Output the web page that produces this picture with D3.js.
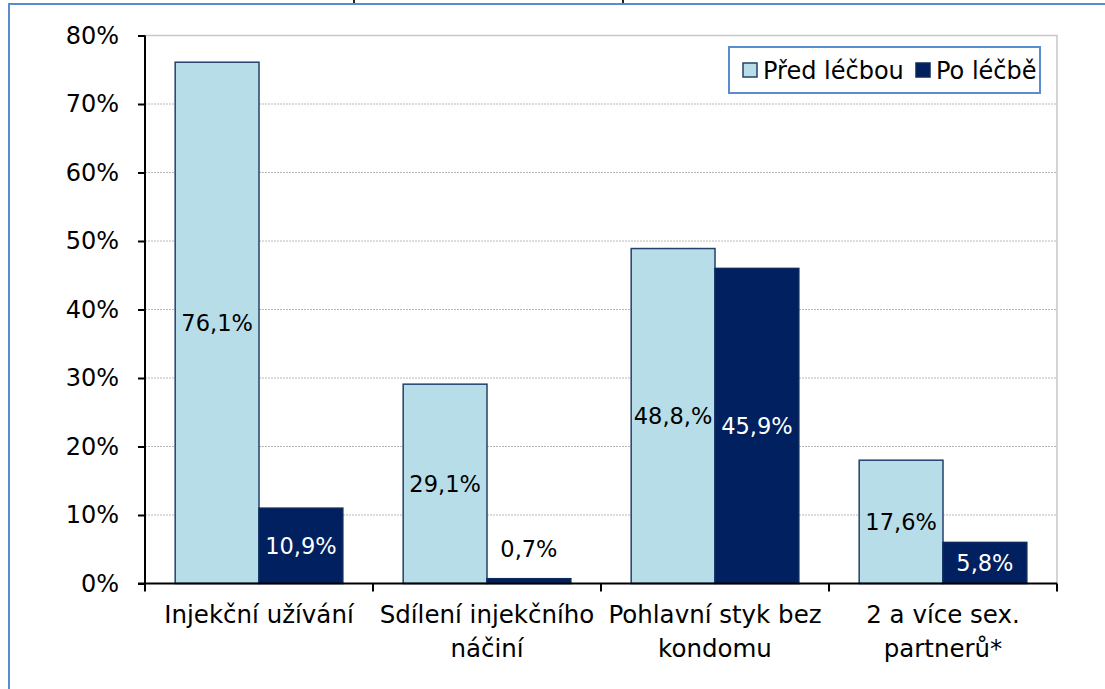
<!DOCTYPE html>
<html>
<head>
<meta charset="utf-8">
<script src="https://cdn.jsdelivr.net/npm/d3@7"></script>
<style>
  body { margin: 0; background: #fff; }
  svg { display: block; font-family: "DejaVu Sans", Verdana, sans-serif; }
</style>
</head>
<body>
<svg id="chart"></svg>
<script>
const categories = [
  ["Injekční užívání"],
  ["Sdílení injekčního", "náčiní"],
  ["Pohlavní styk bez", "kondomu"],
  ["2 a více sex.", "partnerů*"]
];
const series = ["Před léčbou", "Po léčbě"];
const beforeValues = [76.1, 29.1, 48.9, 18];
const afterValues = [11, 0.7, 46, 6];
const beforeLabels = ["76,1%", "29,1%", "48,8,%", "17,6%"];
const afterLabels = ["10,9%", "0,7%", "45,9%", "5,8%"];
const yTicks = [0, 10, 20, 30, 40, 50, 60, 70, 80];

const width = 1105;
const height = 689;
const margin = { top: 35.5, right: 48, bottom: 105.5, left: 145 };

const fills = ["#b7dde8", "#002060"];
const strokes = ["#24406b", "#0d2a5c"];
const labelColors = ["#000", "#fff"];

const svg = d3.select("#chart").attr("width", width).attr("height", height);

// outer chart border (cut off on right and bottom)
svg.append("rect")
  .attr("x", 9).attr("y", 4)
  .attr("width", width + 20).attr("height", height + 20)
  .attr("fill", "none")
  .attr("stroke", "#5b8bd0")
  .attr("stroke-width", 2);

// remnants of a cut-off title
[354, 623].forEach((x) => {
  svg.append("rect").attr("x", x - 1).attr("y", 0).attr("width", 2).attr("height", 3).attr("fill", "#222");
});

const x0 = d3.scaleBand()
  .domain(d3.range(categories.length))
  .range([margin.left, width - margin.right])
  .padding(0);

const x1 = d3.scaleBand()
  .domain(d3.range(series.length))
  .range([0, x0.bandwidth()])
  .paddingInner(0)
  .paddingOuter(0.36);

const y = d3.scaleLinear()
  .domain([0, 80])
  .range([height - margin.bottom, margin.top]);

const plotRight = width - margin.right;

// grid lines
svg.append("g")
  .selectAll("line")
  .data(yTicks.filter((d) => d > 0 && d < 80))
  .join("line")
  .attr("x1", margin.left).attr("x2", plotRight)
  .attr("y1", (d) => y(d)).attr("y2", (d) => y(d))
  .attr("stroke", "#b8b8b8")
  .attr("stroke-width", 1)
  .attr("stroke-dasharray", "2,1");

// plot area border top / right
svg.append("path")
  .attr("d", `M${margin.left},${y(80)}H${plotRight}V${y(0)}`)
  .attr("fill", "none")
  .attr("stroke", "#c8c8c8")
  .attr("stroke-width", 1.5);

// bars
const data = [beforeValues, afterValues];
const labels = [beforeLabels, afterLabels];

series.forEach((s, si) => {
  const g = svg.append("g");
  g.selectAll("rect")
    .data(data[si])
    .join("rect")
    .attr("x", (d, i) => x0(i) + x1(si))
    .attr("y", (d) => y(d))
    .attr("width", x1.bandwidth())
    .attr("height", (d) => y(0) - y(d))
    .attr("fill", fills[si])
    .attr("stroke", strokes[si])
    .attr("stroke-width", 1.5);

  g.selectAll("text")
    .data(data[si])
    .join("text")
    .attr("x", (d, i) => x0(i) + x1(si) + x1.bandwidth() / 2)
    .attr("y", (d) => (d < 2 ? y(d) - 30 : (y(d) + y(0)) / 2))
    .attr("dy", "0.36em")
    .attr("text-anchor", "middle")
    .attr("font-size", 22.5)
    .attr("fill", (d) => (d < 2 ? "#000" : labelColors[si]))
    .text((d, i) => labels[si][i]);
});

// y axis
const yAxis = svg.append("g")
  .attr("transform", `translate(${margin.left},0)`)
  .call(d3.axisLeft(y).tickValues(yTicks).tickSize(7).tickPadding(19).tickFormat((d) => d + "%"));
yAxis.select(".domain").attr("d", `M0,${y(80)}V${y(0) + 7}`).attr("stroke", "#000").attr("stroke-width", 2);
yAxis.selectAll(".tick line").attr("stroke", "#000").attr("stroke-width", 2);
yAxis.selectAll(".tick text")
  .attr("font-size", 24)
  .attr("fill", "#000")
  .attr("font-family", "DejaVu Sans, Verdana, sans-serif");

// x axis
const xAxis = svg.append("g").attr("transform", `translate(0,${y(0)})`);
xAxis.append("line")
  .attr("x1", margin.left - 7).attr("x2", plotRight)
  .attr("stroke", "#000").attr("stroke-width", 2);
xAxis.selectAll(".xtick")
  .data(d3.range(categories.length + 1))
  .join("line")
  .attr("class", "xtick")
  .attr("x1", (d) => (d < categories.length ? x0(d) : plotRight))
  .attr("x2", (d) => (d < categories.length ? x0(d) : plotRight))
  .attr("y1", 0).attr("y2", 8)
  .attr("stroke", "#000").attr("stroke-width", 2);

xAxis.selectAll(".xlabel")
  .data(categories)
  .join("text")
  .attr("class", "xlabel")
  .attr("text-anchor", "middle")
  .attr("font-size", 24.5)
  .attr("fill", "#000")
  .selectAll("tspan")
  .data((d, i) => d.map((line) => ({ line, i })))
  .join("tspan")
  .attr("x", (d) => x0(d.i) + x0.bandwidth() / 2)
  .attr("y", (d, j) => 39 + j * 34)
  .text((d) => d.line);

// legend
const legend = svg.append("g").attr("transform", "translate(729,47)");
legend.append("rect")
  .attr("width", 311).attr("height", 46)
  .attr("fill", "#fff")
  .attr("stroke", "#5b8bd0")
  .attr("stroke-width", 2);
const legendX = [14, 187];
series.forEach((s, si) => {
  legend.append("rect")
    .attr("x", legendX[si]).attr("y", 16)
    .attr("width", 14).attr("height", 14)
    .attr("fill", fills[si])
    .attr("stroke", strokes[si])
    .attr("stroke-width", 1.5);
  legend.append("text")
    .attr("x", legendX[si] + 20).attr("y", 32)
    .attr("font-size", 24)
    .attr("fill", "#000")
    .text(s);
});
</script>
</body>
</html>
